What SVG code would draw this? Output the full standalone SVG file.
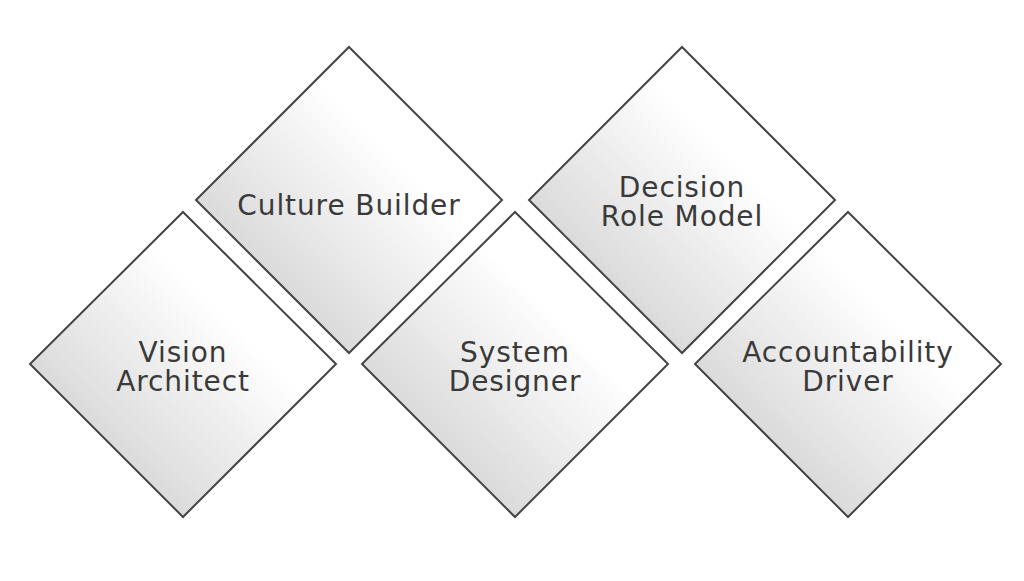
<svg xmlns="http://www.w3.org/2000/svg" width="1024" height="581" viewBox="0 0 1024 581">
<defs>
<linearGradient id="g" x1="0" y1="1" x2="1" y2="0">
<stop offset="0" stop-color="#c4c4c4"/>
<stop offset="0.65" stop-color="#ffffff"/>
<stop offset="1" stop-color="#ffffff"/>
</linearGradient>
<style>
.d{fill:url(#g);stroke:#444;stroke-width:2}
text{font-family:"DejaVu Sans",sans-serif;font-size:28px;letter-spacing:0.9px;fill:#3a3a3a;text-anchor:middle}
</style>
</defs>
<rect width="1024" height="581" fill="#fff"/>
<g id="vision"><path class="d" d="M183 212 L336 364 L183 517 L30 364 Z"/><text x="183" y="362">Vision</text><text x="183" y="391">Architect</text></g>
<g id="culture"><path class="d" d="M349 47 L502 200 L349 353 L196 200 Z"/><text x="349" y="215">Culture Builder</text></g>
<g id="system"><path class="d" d="M515 212 L668 364 L515 517 L362 364 Z"/><text x="515" y="362">System</text><text x="515" y="391">Designer</text></g>
<g id="decision"><path class="d" d="M682 47 L835 200 L682 353 L529 200 Z"/><text x="682" y="197">Decision</text><text x="682" y="226">Role Model</text></g>
<g id="accountability"><path class="d" d="M848 212 L1001 364 L848 517 L695 364 Z"/><text x="848" y="362">Accountability</text><text x="848" y="391">Driver</text></g>
<g id="connectors"/>
</svg>
